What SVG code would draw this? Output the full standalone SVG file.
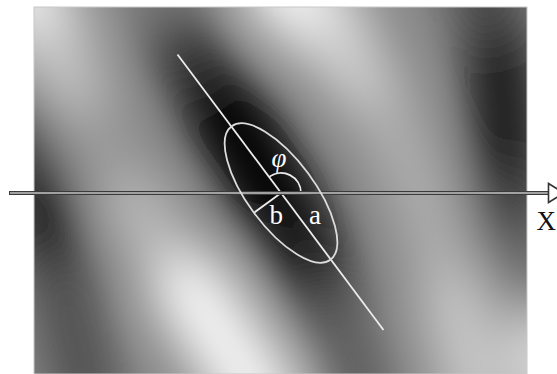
<svg xmlns="http://www.w3.org/2000/svg" width="557" height="374" viewBox="0 0 557 374">
<defs>
<style>
.band{fill:none;stroke-linecap:round;stroke-linejoin:round}
.wl{fill:none;stroke:#ececec;stroke-width:1.8}
.lbl{font-family:"Liberation Serif","Times New Roman",serif;fill:#ffffff;font-size:27px}
</style>
<clipPath id="clipImg"><rect x="34" y="7" width="493" height="367"/></clipPath>
<filter id="soft" filterUnits="userSpaceOnUse" x="-120" y="-120" width="800" height="620">
<feGaussianBlur stdDeviation="26"/>
</filter>
</defs>
<rect width="557" height="374" fill="#ffffff"/>
<g id="pattern" clip-path="url(#clipImg)">
<rect x="34" y="7" width="493" height="367" fill="#888888"/>
<g filter="url(#soft)">
<!-- bright band left / bottom -->
<line class="band" x1="20" y1="-20" x2="55" y2="45" stroke="#f4f4f4" stroke-width="72"/>
<line class="band" x1="55" y1="45" x2="92" y2="125" stroke="#c6c6c6" stroke-width="60"/>
<line class="band" x1="92" y1="125" x2="135" y2="205" stroke="#9c9c9c" stroke-width="55"/>
<line class="band" x1="135" y1="205" x2="192" y2="292" stroke="#bcbcbc" stroke-width="60"/>
<line class="band" x1="192" y1="292" x2="262" y2="400" stroke="#f6f6f6" stroke-width="78"/>
<!-- dark band left -->
<line class="band" x1="10" y1="120" x2="40" y2="200" stroke="#2c2c2c" stroke-width="55"/>
<line class="band" x1="40" y1="200" x2="62" y2="285" stroke="#0c0c0c" stroke-width="60"/>
<line class="band" x1="62" y1="285" x2="90" y2="400" stroke="#4a4a4a" stroke-width="60"/>
<!-- central dark band -->
<line class="band" x1="145" y1="-30" x2="185" y2="50" stroke="#767676" stroke-width="60"/>
<line class="band" x1="185" y1="50" x2="228" y2="115" stroke="#2a2a2a" stroke-width="70"/>
<line class="band" x1="228" y1="115" x2="302" y2="245" stroke="#000000" stroke-width="88"/>
<line class="band" x1="302" y1="245" x2="332" y2="315" stroke="#1a1a1a" stroke-width="72"/>
<line class="band" x1="332" y1="315" x2="365" y2="400" stroke="#5a5a5a" stroke-width="60"/>
<!-- bright band right of centre -->
<line class="band" x1="280" y1="-20" x2="330" y2="30" stroke="#fafafa" stroke-width="80"/>
<line class="band" x1="330" y1="30" x2="385" y2="112" stroke="#d4d4d4" stroke-width="60"/>
<line class="band" x1="385" y1="112" x2="426" y2="205" stroke="#b2b2b2" stroke-width="55"/>
<line class="band" x1="426" y1="205" x2="456" y2="305" stroke="#b0b0b0" stroke-width="58"/>
<line class="band" x1="456" y1="305" x2="480" y2="400" stroke="#cacaca" stroke-width="65"/>
<!-- dark band right -->
<line class="band" x1="480" y1="-30" x2="500" y2="60" stroke="#404040" stroke-width="60"/>
<line class="band" x1="500" y1="60" x2="510" y2="200" stroke="#111111" stroke-width="65"/>
<line class="band" x1="510" y1="200" x2="520" y2="258" stroke="#3a3a3a" stroke-width="55"/>
<line class="band" x1="520" y1="258" x2="533" y2="290" stroke="#6e6e6e" stroke-width="45"/>
<!-- bright corner bottom right -->
<line class="band" x1="540" y1="340" x2="560" y2="400" stroke="#e2e2e2" stroke-width="60"/>
</g>
</g>
<rect x="34" y="7" width="493" height="367" fill="none" stroke="#c8c8c8" stroke-width="1"/>
<g id="connectors">
<line id="major-axis-line" class="wl" x1="177.5" y1="54.5" x2="383.5" y2="330"/>
<line id="minor-radius" class="wl" x1="281" y1="193" x2="254" y2="212.7" stroke-width="2"/>
<path id="angle-arc" class="wl" d="M 269.1 176.9 A 20 20 0 0 1 301 193"/>
<g id="axis-x">
<line x1="9" y1="193" x2="549" y2="193" stroke="#3a3a3a" stroke-width="4.2"/>
<line x1="10" y1="193" x2="548" y2="193" stroke="#c4c4c4" stroke-width="1.6"/>
<polygon points="548.5,183.5 564,193 548.5,202.5" fill="#ffffff" stroke="#333333" stroke-width="1.6"/>
</g>
</g>
<g id="ellipse-node">
<ellipse cx="281" cy="193" rx="83" ry="33.5" transform="rotate(53.5 281 193)" fill="none" stroke="#dcdcdc" stroke-width="1.8"/>
</g>
<g id="labels">
<text id="label-phi" class="lbl" x="279" y="167" text-anchor="middle" font-style="italic" font-size="24">φ</text>
<text id="label-b" class="lbl" x="269.5" y="223.5">b</text>
<text id="label-a" class="lbl" x="309" y="223.5">a</text>
<text id="label-x" class="lbl" x="536.5" y="230" style="fill:#111111">X</text>
</g>
</svg>
